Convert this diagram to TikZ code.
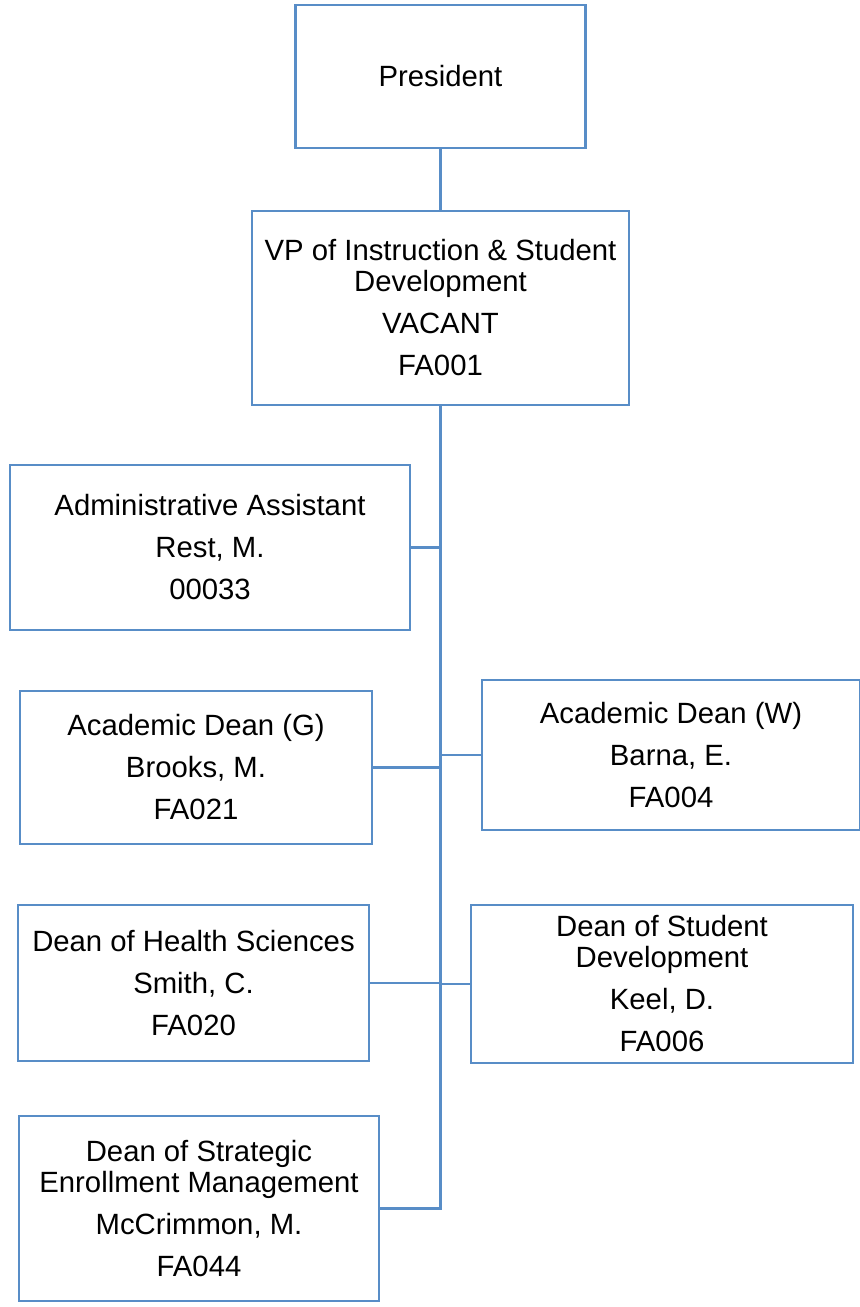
\documentclass[tikz,border=0pt]{standalone}
\usepackage{fontspec}
\setmainfont{Liberation Sans}
\usetikzlibrary{positioning}
\definecolor{boxblue}{RGB}{88,141,199}
\tikzstyle{block} = [draw=boxblue, line width=1.3pt, fill=white, rectangle, align=center, inner sep=0pt, font=\fontsize{14.65}{15.5}\selectfont]
\tikzstyle{link} = [draw=boxblue, line width=1.3pt]
\newcommand{\gap}{\\[5.5pt]}

\begin{document}
\begin{tikzpicture}[x=0.5pt, y=-0.5pt]
  \useasboundingbox (0,0) rectangle (860,1307);
  \node [block, minimum width=145pt, minimum height=71.5pt] (pres) at (440.5,76.5) {President};
  \node [block, minimum width=188.5pt, minimum height=97pt] (vp) at (440.5,308) {VP of Instruction \& Student\\Development\gap VACANT\gap FA001};
  \node [block, minimum width=200pt, minimum height=82.5pt] (admin) at (210,547.5) {Administrative Assistant\gap Rest, M.\gap 00033};
  \node [block, minimum width=176pt, minimum height=76.5pt] (acadg) at (196,767.5) {Academic Dean (G)\gap Brooks, M.\gap FA021};
  \node [block, minimum width=189pt, minimum height=75pt] (acadw) at (671,755) {Academic Dean (W)\gap Barna, E.\gap FA004};
  \node [block, minimum width=175.5pt, minimum height=78pt] (health) at (193.5,983) {Dean of Health Sciences\gap Smith, C.\gap FA020};
  \node [block, minimum width=191pt, minimum height=79pt] (studev) at (662,984) {Dean of Student\\Development\gap Keel, D.\gap FA006};
  \node [block, minimum width=180pt, minimum height=92.5pt] (strat) at (199,1208.5) {Dean of Strategic\\Enrollment Management\gap McCrimmon, M.\gap FA044};
  \draw [link] (pres) -- (vp);
  \draw [link] (vp.south) -- (vp.south |- strat.east) -- (strat.east);
  \draw [link] (admin.east) -- (admin.east -| vp.south);
  \draw [link] (acadg.east) -- (acadg.east -| vp.south);
  \draw [link] (acadw.west) -- (acadw.west -| vp.south);
  \draw [link] (health.east) -- (health.east -| vp.south);
  \draw [link] (studev.west) -- (studev.west -| vp.south);
\end{tikzpicture}
\end{document}
